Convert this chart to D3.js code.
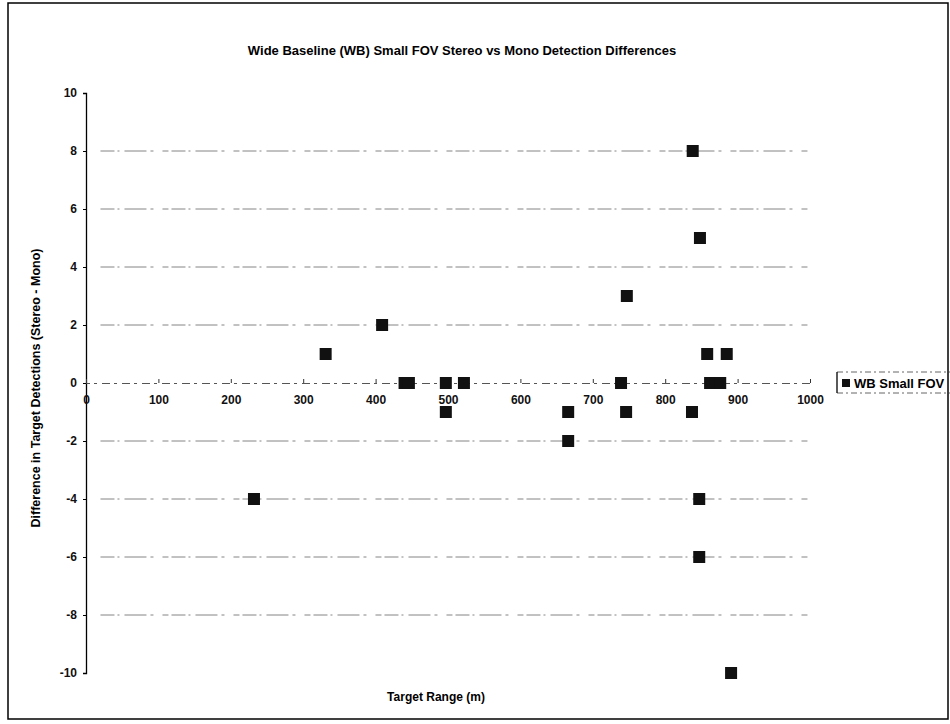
<!DOCTYPE html>
<html><head><meta charset="utf-8">
<script src="https://cdn.jsdelivr.net/npm/d3@7"></script>
<style>body{margin:0;background:#fff;} svg{display:block;font-family:"Liberation Sans",Arial,sans-serif;}</style>
</head><body><svg id="c" width="950" height="724"></svg>
<script>
const title = "Wide Baseline (WB) Small FOV Stereo vs Mono Detection Differences";
const xLabel = "Target Range (m)";
const yLabel = "Difference in Target Detections (Stereo - Mono)";
const seriesName = "WB Small FOV";
const xTicks = [0,100,200,300,400,500,600,700,800,900,1000];
const yTicks = [-10,-8,-6,-4,-2,0,2,4,6,8,10];
const ranges = [232,331,409,440,446,497,497,522,666,666,739,747,746,838,837,848,847,847,858,862,869,876,885,891];
const diffs  = [-4, 1,  2,  0,  0,  0, -1,  0, -1, -2,  0,  3, -1,  8, -1,  5, -4, -6,  1,  0,  0,  0,  1,-10];

const svg = d3.select("#c");
svg.append("rect").attr("x",8).attr("y",3).attr("width",940).attr("height",716)
  .attr("fill","none").attr("stroke","#000").attr("stroke-width",1.5);

const x = d3.scaleLinear().domain([0,1000]).range([86,810]);
const y = d3.scaleLinear().domain([-10,10]).range([673,93]);

// gridlines
svg.append("g").selectAll("line").data(yTicks.filter(v=>v!==0 && v!==10 && v!==-10)).join("line")
  .attr("x1",x(20)).attr("x2",x(1000)).attr("y1",d=>y(d)).attr("y2",d=>y(d))
  .attr("stroke","#777").attr("stroke-width",0.9).attr("stroke-dasharray","14,3,2,5,22,4,3,9,6,3");

// y axis
const yAxis = d3.axisLeft(y).tickValues(yTicks).tickSize(3).tickPadding(6).tickFormat(d=>String(d));
const gy = svg.append("g").attr("transform",`translate(${x(0)},0)`).call(yAxis);
gy.select(".domain").attr("stroke","#000").attr("stroke-width",1.3);
gy.selectAll("text").attr("font-size",12).attr("font-weight","bold").attr("fill","#111");

// x axis at y=0
const xAxis = d3.axisTop(x).tickValues(xTicks).tickSize(4).tickFormat(d=>String(d));
const gx = svg.append("g").attr("transform",`translate(0,${y(0)})`).call(xAxis);
gx.select(".domain").attr("stroke","#555").attr("stroke-dasharray","8,4,3,5");
gx.selectAll(".tick line").attr("stroke","#333");
gx.selectAll("text").attr("font-size",12).attr("font-weight","bold").attr("fill","#111").attr("y",21).attr("dy","0");

// points
const pts = ranges.map((r,i)=>({r, d: diffs[i]}));
svg.append("g").selectAll("rect").data(pts).join("rect")
  .attr("x",p=>x(p.r)-6).attr("y",p=>y(p.d)-6).attr("width",12).attr("height",12)
  .attr("fill","#111");

// titles
svg.append("text").attr("x",462).attr("y",55).attr("text-anchor","middle")
  .attr("font-size",13).attr("font-weight","bold").text(title);
svg.append("text").attr("x",436).attr("y",701).attr("text-anchor","middle")
  .attr("font-size",12).attr("font-weight","bold").text(xLabel);
svg.append("text").attr("transform","translate(40,388) rotate(-90)").attr("text-anchor","middle")
  .attr("font-size",12.5).attr("font-weight","bold").text(yLabel);

// legend
const lg = svg.append("g").attr("transform","translate(837,372)");
lg.append("line").attr("x1",0).attr("x2",115).attr("y1",0).attr("y2",0).attr("stroke","#666").attr("stroke-dasharray","6,3,2,3");
lg.append("line").attr("x1",0).attr("x2",115).attr("y1",21).attr("y2",21).attr("stroke","#666").attr("stroke-dasharray","6,3,2,3");
lg.append("line").attr("x1",0).attr("x2",0).attr("y1",0).attr("y2",21).attr("stroke","#000").attr("stroke-width",1.3);
lg.append("rect").attr("x",5).attr("y",7).attr("width",8).attr("height",8).attr("fill","#111");
lg.append("text").attr("x",17).attr("y",15.5).attr("font-size",13).attr("font-weight","bold").text(seriesName);
</script></body></html>
